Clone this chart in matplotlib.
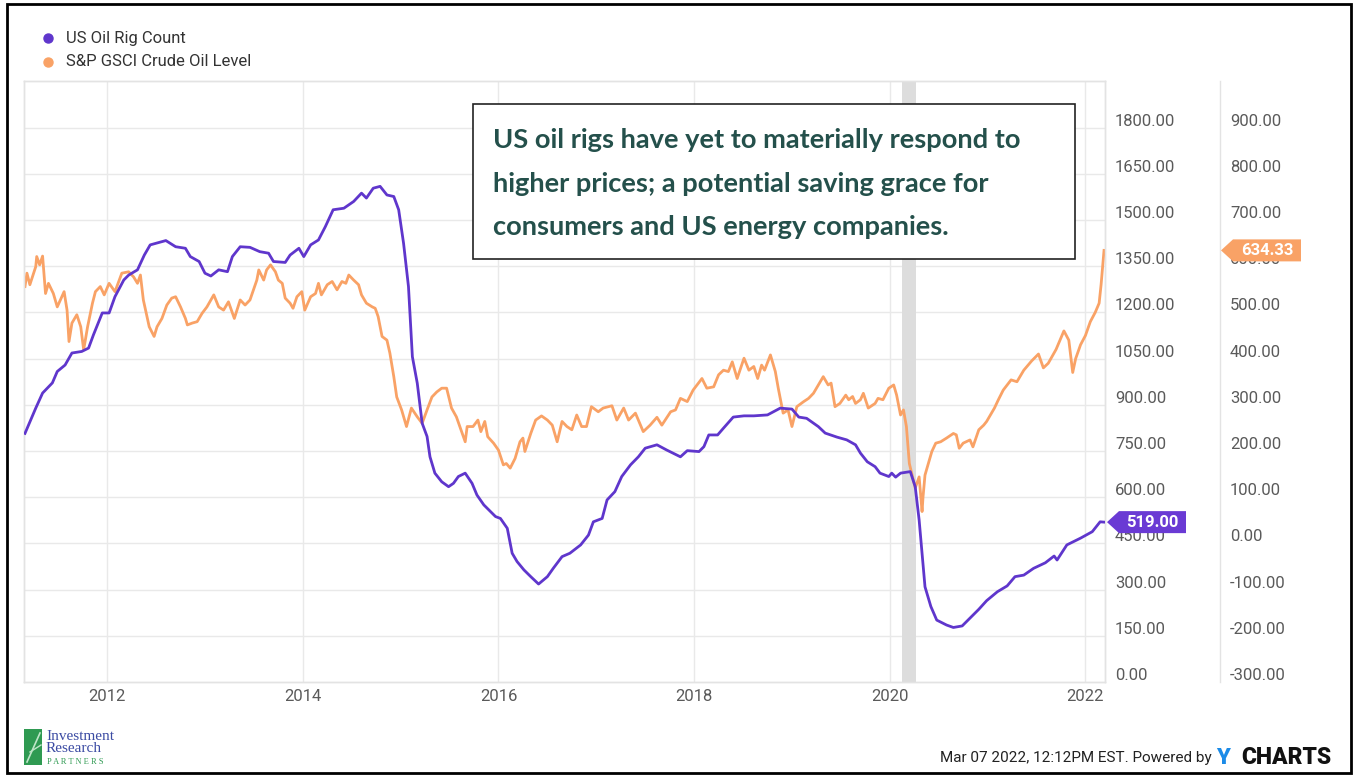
import matplotlib
matplotlib.use("Agg")
import matplotlib.pyplot as plt
from matplotlib.patches import Rectangle, Polygon
from matplotlib.lines import Line2D
import matplotlib.transforms as mtransforms

# ---------------- data ----------------
rig_years = [2011.16, 2011.27, 2011.34, 2011.44, 2011.49, 2011.57, 2011.64, 2011.74, 2011.81, 2011.86,
             2011.95, 2012.02, 2012.08, 2012.17, 2012.22, 2012.31, 2012.38, 2012.44, 2012.60, 2012.70,
             2012.80, 2012.85, 2012.94, 2013.00, 2013.06, 2013.14, 2013.23, 2013.28, 2013.36, 2013.46,
             2013.56, 2013.65, 2013.70, 2013.82, 2013.87, 2013.96, 2014.01, 2014.08, 2014.16, 2014.23,
             2014.31, 2014.42, 2014.52, 2014.60, 2014.65, 2014.72, 2014.79, 2014.86, 2014.93, 2014.98,
             2015.03, 2015.08, 2015.12, 2015.17, 2015.22, 2015.27, 2015.30, 2015.35, 2015.42, 2015.49,
             2015.54, 2015.59, 2015.66, 2015.73, 2015.78, 2015.85, 2015.92, 2015.97, 2016.02, 2016.09,
             2016.14, 2016.19, 2016.26, 2016.33, 2016.41, 2016.50, 2016.56, 2016.65, 2016.73, 2016.84,
             2016.92, 2016.97, 2017.06, 2017.11, 2017.19, 2017.26, 2017.35, 2017.43, 2017.50, 2017.62,
             2017.72, 2017.86, 2017.93, 2018.05, 2018.10, 2018.15, 2018.24, 2018.30, 2018.40, 2018.51,
             2018.61, 2018.75, 2018.88, 2019.00, 2019.07, 2019.15, 2019.27, 2019.34, 2019.46, 2019.56,
             2019.65, 2019.70, 2019.77, 2019.85, 2019.90, 2019.99, 2020.02, 2020.06, 2020.11, 2020.21,
             2020.26, 2020.30, 2020.33, 2020.36, 2020.42, 2020.48, 2020.58, 2020.65, 2020.74, 2020.80,
             2020.91, 2020.99, 2021.10, 2021.20, 2021.28, 2021.37, 2021.47, 2021.59, 2021.68, 2021.71,
             2021.81, 2021.95, 2022.07, 2022.15, 2022.19]
rig_count = [807, 889, 938, 971, 1008, 1029, 1068, 1073, 1084, 1127,
             1198, 1198, 1251, 1305, 1321, 1338, 1386, 1419, 1433, 1413,
             1408, 1381, 1365, 1327, 1318, 1338, 1332, 1381, 1413, 1411,
             1397, 1392, 1365, 1362, 1386, 1408, 1381, 1419, 1435, 1478,
             1533, 1538, 1560, 1587, 1571, 1603, 1609, 1581, 1576, 1533,
             1424, 1284, 1056, 970, 840, 797, 731, 678, 650, 634,
             645, 667, 678, 645, 607, 575, 553, 537, 531, 499,
             418, 391, 364, 342, 318, 342, 369, 407, 418, 445,
             477, 520, 531, 591, 618, 667, 705, 731, 759, 770,
             753, 731, 751, 748, 764, 802, 802, 824, 860, 864,
             864, 867, 889, 886, 860, 856, 829, 808, 795, 786,
             770, 743, 715, 699, 678, 667, 678, 665, 678, 683,
             634, 526, 418, 309, 245, 201, 185, 177, 182, 201,
             236, 264, 293, 312, 342, 347, 369, 387, 409, 396,
             445, 467, 488, 520, 519]

oil_years = [2011.16, 2011.18, 2011.21, 2011.27, 2011.28, 2011.31, 2011.34, 2011.37, 2011.40, 2011.45,
             2011.49, 2011.56, 2011.59, 2011.61, 2011.64, 2011.69, 2011.73, 2011.76, 2011.80, 2011.85,
             2011.88, 2011.93, 2011.97, 2012.02, 2012.08, 2012.15, 2012.22, 2012.27, 2012.31, 2012.34,
             2012.37, 2012.43, 2012.48, 2012.51, 2012.56, 2012.61, 2012.66, 2012.70, 2012.75, 2012.80,
             2012.82, 2012.87, 2012.92, 2012.97, 2013.02, 2013.09, 2013.14, 2013.19, 2013.24, 2013.30,
             2013.36, 2013.41, 2013.46, 2013.53, 2013.55, 2013.60, 2013.63, 2013.67, 2013.72, 2013.75,
             2013.79, 2013.82, 2013.87, 2013.90, 2013.94, 2013.99, 2014.02, 2014.08, 2014.13, 2014.16,
             2014.19, 2014.25, 2014.30, 2014.35, 2014.40, 2014.44, 2014.47, 2014.52, 2014.57, 2014.60,
             2014.65, 2014.71, 2014.74, 2014.77, 2014.81, 2014.86, 2014.89, 2014.93, 2014.96, 2015.01,
             2015.06, 2015.11, 2015.17, 2015.22, 2015.27, 2015.32, 2015.37, 2015.42, 2015.47, 2015.52,
             2015.57, 2015.63, 2015.66, 2015.68, 2015.74, 2015.79, 2015.82, 2015.86, 2015.89, 2015.95,
             2016.00, 2016.05, 2016.08, 2016.12, 2016.17, 2016.22, 2016.25, 2016.27, 2016.33, 2016.38,
             2016.44, 2016.50, 2016.55, 2016.60, 2016.65, 2016.70, 2016.75, 2016.80, 2016.85, 2016.90,
             2016.95, 2017.02, 2017.07, 2017.16, 2017.21, 2017.28, 2017.33, 2017.40, 2017.48, 2017.55,
             2017.62, 2017.67, 2017.76, 2017.81, 2017.86, 2017.93, 2017.99, 2018.08, 2018.13, 2018.20,
             2018.25, 2018.30, 2018.35, 2018.39, 2018.44, 2018.51, 2018.56, 2018.61, 2018.65, 2018.69,
             2018.72, 2018.78, 2018.83, 2018.86, 2018.91, 2018.96, 2019.00, 2019.05, 2019.12, 2019.17,
             2019.22, 2019.27, 2019.32, 2019.37, 2019.40, 2019.44, 2019.49, 2019.55, 2019.58, 2019.62,
             2019.65, 2019.70, 2019.73, 2019.78, 2019.85, 2019.88, 2019.93, 2019.99, 2020.04, 2020.07,
             2020.11, 2020.14, 2020.17, 2020.20, 2020.26, 2020.30, 2020.33, 2020.34, 2020.36, 2020.40,
             2020.43, 2020.47, 2020.52, 2020.58, 2020.65, 2020.68, 2020.71, 2020.75, 2020.82, 2020.85,
             2020.91, 2020.96, 2020.99, 2021.04, 2021.07, 2021.11, 2021.16, 2021.20, 2021.24, 2021.30,
             2021.37, 2021.45, 2021.52, 2021.57, 2021.62, 2021.70, 2021.78, 2021.83, 2021.87, 2021.90,
             2021.95, 2022.00, 2022.05, 2022.10, 2022.14, 2022.16, 2022.19]
oil_level = [556, 585, 560, 599, 621, 603, 622, 541, 563, 541,
             512, 545, 505, 437, 477, 495, 469, 419, 469, 520,
             545, 556, 538, 563, 545, 585, 588, 577, 563, 581,
             527, 469, 448, 469, 487, 516, 531, 534, 512, 487,
             473, 477, 480, 498, 512, 538, 512, 505, 523, 487,
             527, 516, 527, 570, 592, 570, 592, 603, 588, 570,
             563, 531, 520, 509, 534, 545, 505, 534, 541, 563,
             538, 560, 567, 549, 567, 563, 581, 570, 560, 538,
             520, 512, 509, 491, 448, 440, 412, 361, 317, 289,
             253, 293, 274, 260, 289, 317, 328, 336, 336, 293,
             274, 238, 220, 253, 253, 267, 242, 264, 231, 217,
             202, 170, 173, 163, 184, 220, 228, 199, 238, 267,
             276, 267, 256, 220, 264, 253, 246, 278, 253, 253,
             296, 285, 293, 298, 267, 293, 267, 282, 242, 256,
             273, 256, 285, 289, 314, 307, 332, 357, 336, 339,
             365, 375, 372, 393, 357, 401, 375, 383, 357, 386,
             375, 408, 372, 336, 282, 289, 253, 296, 307, 314,
             325, 343, 361, 343, 347, 296, 303, 321, 311, 318,
             303, 311, 325, 293, 303, 314, 311, 336, 343, 321,
             278, 289, 253, 173, 120, 144, 69, 101, 148, 177,
             199, 217, 220, 228, 238, 235, 206, 217, 224, 209,
             246, 256, 264, 282, 293, 311, 332, 343, 354, 350,
             375, 395, 410, 380, 390, 420, 460, 440, 370, 400,
             430, 450, 480, 500, 520, 560, 634.33]

x_ticks = [2012, 2014, 2016, 2018, 2020, 2022]
rig_ticks = [0, 150, 300, 450, 600, 750, 900, 1050, 1200, 1350, 1500, 1650, 1800]
oil_ticks = [-300, -200, -100, 0, 100, 200, 300, 400, 500, 600, 700, 800, 900]
recession = (2020.12, 2020.27)

legend_labels = ["US Oil Rig Count", "S&P GSCI Crude Oil Level"]
note_lines = ["US oil rigs have yet to materially respond to",
              "higher prices; a potential saving grace for",
              "consumers and US energy companies."]
footer_text = "Mar 07 2022, 12:12PM EST. Powered by"

# ---------------- styling ----------------
PURPLE = "#5f36cc"
ORANGE = "#f9a266"
GRID = "#e9e9e9"
LABEL = "#5a5a5a"
NOTE = "#24504b"

W, H = 1357, 775
fig = plt.figure(figsize=(W / 100, H / 100), dpi=100)
fig.patch.set_facecolor("white")


def fx(px):
    return px / W


def fy(py):
    return 1 - py / H


ax = fig.add_axes([fx(24), fy(682), fx(1105) - fx(24), fy(81) - fy(682)])
ax2 = ax.twinx()

# crude oil on bottom axes
ax.set_xlim(2011.15, 2022.20)
ax.set_ylim(-300, 1001)
ax2.set_ylim(0, 1951)

ax.axvspan(*recession, color="#dddddd", lw=0, zorder=1)
ax.plot(oil_years, oil_level, color=ORANGE, lw=2.0, zorder=3, solid_joinstyle="round")
ax2.plot(rig_years, rig_count, color=PURPLE, lw=2.0, zorder=3, solid_joinstyle="round")

# grid from rig axis ticks (drawn on bottom axes)
for v in rig_ticks[1:]:
    yy = -300 + v * (1301 / 1951)
    ax.axhline(yy, color=GRID, lw=1, zorder=0)
ax.set_xticks(x_ticks)
ax.set_xticklabels([str(t) for t in x_ticks])
ax.grid(axis="x", color=GRID, lw=1, zorder=0)

for a in (ax, ax2):
    for s in a.spines.values():
        s.set_color("#e3e3e3")
        s.set_linewidth(1)

ax.set_yticks(oil_ticks)
ax.set_yticklabels([f"{v:.2f}" for v in oil_ticks])
ax.yaxis.tick_right()
ax.tick_params(axis="y", length=0, pad=90, labelsize=12, labelcolor=LABEL)
ax.tick_params(axis="x", length=0, pad=5, labelsize=12, labelcolor=LABEL)

ax2.set_yticks(rig_ticks)
ax2.set_yticklabels([f"{v:.2f}" for v in rig_ticks])
ax2.tick_params(axis="y", length=0, pad=7.2, labelsize=12, labelcolor=LABEL)

for a in (ax, ax2):
    for lab in a.get_xticklabels() + a.get_yticklabels():
        lab.set_fontfamily(["Roboto", "DejaVu Sans"])

off = mtransforms.ScaledTranslation(0, 0.08, fig.dpi_scale_trans)
for a in (ax, ax2):
    for t in a.yaxis.get_major_ticks():
        t.label2.set_transform(t.label2.get_transform() + off)

# separator between the two label columns
fig.add_artist(Line2D([fx(1220), fx(1220)], [fy(81), fy(682)], color="#e3e3e3", lw=1,
                      transform=fig.transFigure))

# ---------------- end value tags ----------------
fig.canvas.draw()


def tag(axis, val, x_tip, x_end, color, text):
    yd = axis.transData.transform((2020, val))[1]
    h = 11
    verts = [(x_tip, yd), (x_tip + 12, yd + h), (x_end, yd + h), (x_end, yd - h), (x_tip + 12, yd - h)]
    poly = Polygon(verts, closed=True, facecolor=color, edgecolor="none",
                   transform=mtransforms.IdentityTransform(), zorder=10)
    fig.add_artist(poly)
    fig.text((x_tip + 12 + x_end) / 2 / W, yd / H, text, color="white", fontsize=12,
             fontweight="bold", family=["Roboto", "DejaVu Sans"], ha="center", va="center",
             zorder=11)


tag(ax, oil_level[-1], 1221, 1301, ORANGE, f"{oil_level[-1]:.2f}")
tag(ax2, rig_count[-1], 1107, 1186, "#6a3ad4", f"{rig_count[-1]:.2f}")

# ---------------- legend ----------------
for i, (lab, col) in enumerate(zip(legend_labels, [PURPLE, ORANGE])):
    yy = 38 + 24 * i
    fig.add_artist(Line2D([fx(48)], [fy(yy)], marker="o", markersize=6.5, color=col, lw=0,
                          transform=fig.transFigure))
    fig.text(fx(66), fy(yy), lab, fontsize=12, color="#333333", va="center", ha="left",
             family=["Roboto", "DejaVu Sans"])

# ---------------- annotation box ----------------
fig.add_artist(Rectangle((fx(473), fy(259)), fx(1075) - fx(473), fy(104) - fy(259),
                         transform=fig.transFigure, facecolor="white", edgecolor="#222222",
                         lw=1.2, zorder=5))
for i, line in enumerate(note_lines):
    fig.text(fx(493), fy(140 + 43.5 * i), line, fontsize=19.6, fontweight="bold", color=NOTE,
             family=["Lato", "DejaVu Sans"], va="center", ha="left", zorder=6)

# ---------------- footer ----------------
fig.text(fx(1212), fy(758), footer_text, fontsize=11, color="#222222", ha="right", va="center",
         family=["Roboto", "DejaVu Sans"])
fig.text(fx(1216), fy(758), "Y", fontsize=16, color="#1b8be8", fontweight="heavy", ha="left",
         va="center", family=["Roboto", "DejaVu Sans"])
fig.text(fx(1241), fy(758), "CHARTS", fontsize=16.5, color="#111111", fontweight="heavy", ha="left",
         va="center", family=["Roboto", "DejaVu Sans"])

# logo
fig.add_artist(Rectangle((fx(24), fy(765)), fx(42) - fx(24), fy(729) - fy(765),
                         transform=fig.transFigure, facecolor="#2f9a52", edgecolor="none"))
fig.add_artist(Line2D([fx(27), fx(40)], [fy(762), fy(733)], color="#bfe5c8", lw=1.2,
                      transform=fig.transFigure))
fig.add_artist(Line2D([fx(30), fx(41)], [fy(752), fy(745)], color="#bfe5c8", lw=1.0,
                      transform=fig.transFigure))
fig.text(fx(46), fy(736), "Investment", fontsize=11, color="#3b4ba3", family=["Liberation Serif", "DejaVu Serif"],
         va="center", ha="left")
fig.text(fx(46), fy(749), "Research", fontsize=11, color="#3b4ba3", family=["Liberation Serif", "DejaVu Serif"],
         va="center", ha="left")
fig.text(fx(47), fy(762), "P A R T N E R S", fontsize=6, color="#2f9a52", family=["Liberation Serif", "DejaVu Serif"],
         va="center", ha="left")

# outer border
fig.add_artist(Rectangle((fx(7), fy(773)), fx(1351) - fx(7), fy(4) - fy(773),
                         transform=fig.transFigure, facecolor="none", edgecolor="black", lw=2))

fig.savefig("out.png", dpi=100, facecolor="white")
